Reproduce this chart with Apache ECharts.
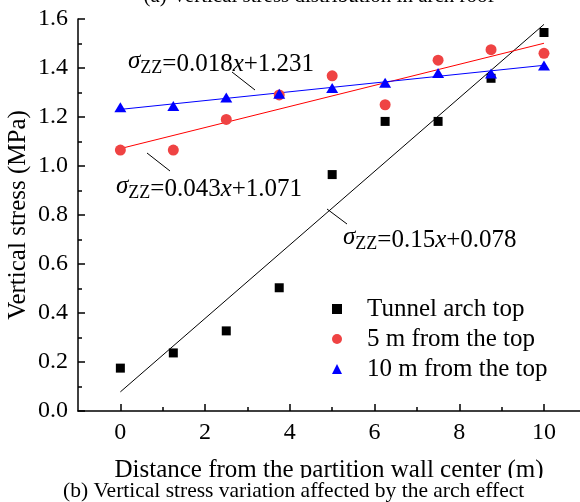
<!DOCTYPE html>
<html lang="en">
  <head>
    <meta charset="UTF-8" />
    <title>Vertical stress</title>
    <style>
      html, body { margin: 0; padding: 0; background: #fff; }
      #chart { width: 580px; height: 502px; }
    </style>
  </head>
  <body>
    <div id="chart"></div>
    <script src="https://cdn.jsdelivr.net/npm/echarts@6/dist/echarts.min.js"></script>
    <script>
      // distance from partition wall center (m)
      var distance = [0, 1.25, 2.5, 3.75, 5, 6.25, 7.5, 8.75, 10];
      // vertical stress (MPa)
      var archTop = [0.175, 0.237, 0.327, 0.503, 0.965, 1.182, 1.182, 1.358, 1.545];
      var from5m = [1.065, 1.065, 1.19, 1.29, 1.368, 1.25, 1.432, 1.475, 1.46];
      var from10m = [1.24, 1.245, 1.28, 1.295, 1.318, 1.34, 1.38, 1.378, 1.41];
      // fitted lines, [start, end] over x = 0..10
      var fitRange = [0, 10];
      var fitArch = [0.078, 1.578];
      var fit5m = [1.071, 1.501];
      var fit10m = [1.231, 1.411];
      var xTickLabels = [0, 2, 4, 6, 8, 10];
      var xMinorTicks = [1, 3, 5, 7, 9];
      var seriesNames = ['Tunnel arch top', '5 m from the top', '10 m from the top'];

      var serif = 'Liberation Serif, Times New Roman, serif';

      function pairs(xs, ys) {
        return xs.map(function (x, i) { return [x, ys[i]]; });
      }

      function eqText(k, b) {
        return '{s|σ}{z|ZZ}{n|=' + k + '}{i|x}{n|+' + b + '}';
      }
      var eqRich = {
        s: { fontFamily: serif, fontSize: 25, fontStyle: 'italic', lineHeight: 16, verticalAlign: 'top', fill: '#000' },
        z: { fontFamily: serif, fontSize: 18, lineHeight: 23, verticalAlign: 'bottom', fill: '#000' },
        n: { fontFamily: serif, fontSize: 25, lineHeight: 28, verticalAlign: 'bottom', fill: '#000' },
        i: { fontFamily: serif, fontSize: 25, fontStyle: 'italic', lineHeight: 28, verticalAlign: 'bottom', fill: '#000' }
      };

      var chart = echarts.init(document.getElementById('chart'));

      var option = {
        backgroundColor: '#fff',
        animation: false,
        grid: { left: 78, right: 0, top: 19, bottom: 91, outerBoundsMode: 'none' },
        legend: {
          orient: 'vertical',
          left: 327,
          top: 289,
          itemWidth: 10,
          itemHeight: 10,
          itemGap: 0,
          textStyle: { fontFamily: serif, fontSize: 25, color: '#000', lineHeight: 30, padding: [0, 0, 0, 20] },
          data: [
            { name: seriesNames[0], icon: 'rect' },
            { name: seriesNames[1], icon: 'circle' },
            { name: seriesNames[2], icon: 'triangle' }
          ]
        },
        xAxis: [
          {
            type: 'value',
            min: -1,
            max: 10.85,
            name: 'Distance from the partition wall center (m)',
            nameLocation: 'middle',
            nameGap: 47,
            nameMoveOverlap: false,
            nameTextStyle: { fontFamily: serif, fontSize: 25, color: '#000' },
            axisLine: { show: true, onZero: false, lineStyle: { color: '#000', width: 1.5 } },
            axisTick: { show: true, inside: true, length: 7, customValues: xTickLabels, lineStyle: { color: '#000', width: 1.5 } },
            axisLabel: { customValues: xTickLabels, fontFamily: serif, fontSize: 24, color: '#000', margin: 10 },
            splitLine: { show: false }
          },
          {
            type: 'value',
            min: -1,
            max: 10.85,
            position: 'bottom',
            axisLine: { show: false, onZero: false },
            axisTick: { show: true, inside: true, length: 4, customValues: xMinorTicks, lineStyle: { color: '#000', width: 1.5 } },
            axisLabel: { show: false },
            splitLine: { show: false }
          }
        ],
        yAxis: {
          type: 'value',
          min: 0,
          max: 1.6,
          interval: 0.2,
          name: 'Vertical stress (MPa)',
          nameLocation: 'middle',
          nameGap: 47,
          nameMoveOverlap: false,
          nameTextStyle: { fontFamily: serif, fontSize: 25, color: '#000' },
          axisLine: { show: true, onZero: false, lineStyle: { color: '#000', width: 1.5 } },
          axisTick: { show: true, inside: true, length: 7, lineStyle: { color: '#000', width: 1.5 } },
          minorTick: { show: true, splitNumber: 2, length: 4, lineStyle: { color: '#000', width: 1.5 } },
          axisLabel: {
            fontFamily: serif, fontSize: 24, color: '#000', margin: 10,
            formatter: function (v) { return v.toFixed(1); }
          },
          splitLine: { show: false }
        },
        series: [
          {
            name: 'fitArch', type: 'line', silent: true, symbol: 'none',
            lineStyle: { color: '#000', width: 1 },
            data: pairs(fitRange, fitArch), z: 1
          },
          {
            name: 'fit5m', type: 'line', silent: true, symbol: 'none',
            lineStyle: { color: '#ff0000', width: 1 },
            data: pairs(fitRange, fit5m), z: 1
          },
          {
            name: 'fit10m', type: 'line', silent: true, symbol: 'none',
            lineStyle: { color: '#0000ff', width: 1 },
            data: pairs(fitRange, fit10m), z: 1
          },
          {
            name: seriesNames[0], type: 'scatter', symbol: 'rect', symbolSize: 9,
            itemStyle: { color: '#000', opacity: 1 },
            data: pairs(distance, archTop), z: 3
          },
          {
            name: seriesNames[1], type: 'scatter', symbol: 'circle', symbolSize: 11,
            itemStyle: { color: '#ef4343', opacity: 1 },
            data: pairs(distance, from5m), z: 3
          },
          {
            name: seriesNames[2], type: 'scatter', symbol: 'triangle', symbolSize: [12, 10],
            itemStyle: { color: '#0000ff', opacity: 1 },
            data: pairs(distance, from10m), z: 3
          }
        ],
        graphic: [
          // cut-off caption of the panel above
          {
            type: 'text', x: 319, y: -14, z: 10,
            style: { text: '(a) Vertical stress distribution in arch roof', align: 'center', fontFamily: serif, fontSize: 21, fill: '#000' }
          },
          // equation labels and leader lines
          { type: 'text', x: 128, y: 49, z: 10, style: { text: eqText('0.018', '1.231'), rich: eqRich } },
          { type: 'line', z: 10, shape: { x1: 232, y1: 72, x2: 255, y2: 90 }, style: { stroke: '#000', lineWidth: 1 } },
          { type: 'text', x: 116, y: 174, z: 10, style: { text: eqText('0.043', '1.071'), rich: eqRich } },
          { type: 'line', z: 10, shape: { x1: 147, y1: 153, x2: 170, y2: 171 }, style: { stroke: '#000', lineWidth: 1 } },
          { type: 'text', x: 343, y: 225, z: 10, style: { text: eqText('0.15', '0.078'), rich: eqRich } },
          { type: 'line', z: 10, shape: { x1: 327, y1: 209, x2: 347, y2: 224 }, style: { stroke: '#000', lineWidth: 1 } },
          // bottom caption on white band
          {
            type: 'rect', z: 20, shape: { x: 0, y: 478, width: 580, height: 24 },
            style: { fill: '#fff' }
          },
          {
            type: 'text', z: 21, x: 63, y: 480,
            style: { text: '(b) Vertical stress variation affected by the arch effect', fontFamily: serif, fontSize: 21.5, fill: '#000' }
          }
        ]
      };

      chart.setOption(option);
    </script>
  </body>
</html>
